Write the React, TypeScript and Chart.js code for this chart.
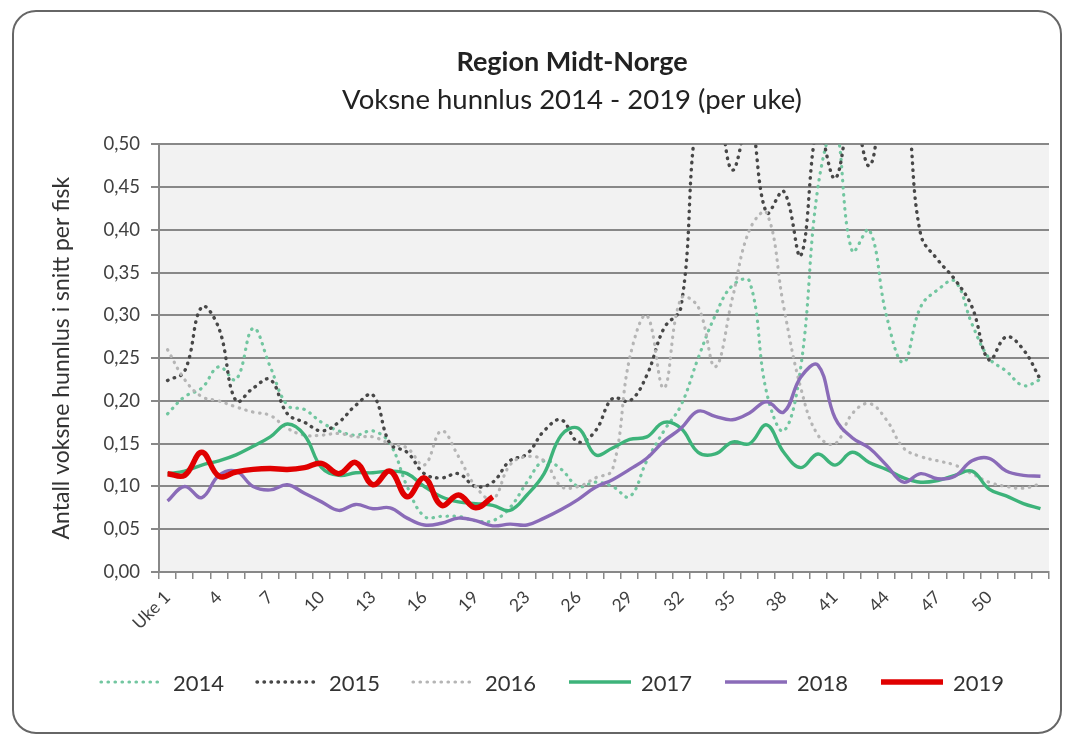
import React, { useEffect, useRef } from 'react';
import { Chart, registerables } from 'chart.js';

Chart.register(...registerables);

const weekLabels = [
  'Uke 1', '2', '3', '4', '5', '6', '7', '8', '9', '10', '11', '12', '13', '14', '15', '16', '17', '18', '19', '20',
  '22', '23', '24', '25', '26', '27', '28', '29', '30', '31', '32', '33', '34', '35', '36', '37', '38', '39', '40',
  '41', '42', '43', '44', '45', '46', '47', '48', '49', '50', '51', '52', '53',
];

const y2014 = [
  0.185, 0.205, 0.215, 0.24, 0.225, 0.285, 0.24, 0.195, 0.19, 0.175, 0.165, 0.16, 0.165, 0.15, 0.1, 0.065,
  0.065, 0.065, 0.06, 0.06, 0.075, 0.105, 0.13, 0.12, 0.1, 0.105, 0.1, 0.088, 0.13, 0.165, 0.195, 0.25,
  0.3, 0.335, 0.34, 0.21, 0.165, 0.24, 0.45, 0.52, 0.375, 0.4, 0.3, 0.245, 0.31, 0.33, 0.34, 0.29,
  0.25, 0.235, 0.218, 0.225,
];

const y2015 = [
  0.224, 0.235, 0.31, 0.285, 0.2, 0.215, 0.225, 0.185, 0.175, 0.165, 0.175, 0.195, 0.207, 0.15, 0.14, 0.115,
  0.11, 0.115, 0.1, 0.105, 0.13, 0.138, 0.165, 0.178, 0.152, 0.165, 0.203, 0.2, 0.23, 0.285, 0.31, 0.54,
  0.55, 0.47, 0.53, 0.42, 0.445, 0.37, 0.52, 0.46, 0.54, 0.475, 0.56, 0.56, 0.395, 0.365, 0.342, 0.31,
  0.248, 0.275, 0.26, 0.225,
];

const y2016 = [
  0.26, 0.225, 0.205, 0.2, 0.193, 0.187, 0.183, 0.168, 0.16, 0.16, 0.162, 0.158, 0.158, 0.15, 0.145, 0.125,
  0.165, 0.135, 0.1, 0.085, 0.125, 0.135, 0.13, 0.1, 0.1, 0.11, 0.12, 0.25, 0.3, 0.215, 0.32, 0.31,
  0.24, 0.32, 0.4, 0.42, 0.31, 0.215, 0.16, 0.15, 0.185, 0.197, 0.178, 0.145, 0.135, 0.13, 0.125, 0.115,
  0.105, 0.1, 0.098, 0.103,
];

const y2017 = [
  0.115, 0.118, 0.125, 0.13, 0.137, 0.147, 0.158, 0.173, 0.16, 0.122, 0.113, 0.116, 0.116, 0.118, 0.115, 0.1,
  0.088, 0.082, 0.08, 0.078, 0.072, 0.09, 0.115, 0.16, 0.168, 0.137, 0.145, 0.155, 0.158, 0.175, 0.168, 0.14,
  0.138, 0.152, 0.15, 0.172, 0.14, 0.122, 0.138, 0.125, 0.14, 0.128, 0.12, 0.11, 0.105, 0.107, 0.113, 0.118,
  0.097, 0.089, 0.08, 0.074,
];

const y2018 = [
  0.083, 0.1, 0.087, 0.113, 0.118, 0.1, 0.096, 0.102, 0.092, 0.082, 0.072, 0.079, 0.074, 0.075, 0.063, 0.055,
  0.057, 0.063, 0.06, 0.054, 0.056, 0.055, 0.063, 0.073, 0.085, 0.099, 0.108, 0.12, 0.133, 0.153, 0.168, 0.188,
  0.182, 0.178, 0.186, 0.199, 0.187, 0.228, 0.242, 0.18, 0.157, 0.145, 0.125, 0.105, 0.115, 0.109, 0.112, 0.13,
  0.133, 0.118, 0.113, 0.112,
];

const y2019 = [
  0.115, 0.113, 0.14, 0.112, 0.117, 0.12, 0.121, 0.12, 0.122, 0.127, 0.115, 0.128, 0.102, 0.118, 0.088, 0.11,
  0.078, 0.09, 0.075, 0.088,
];

const FONT = 'Lato, "Open Sans", sans-serif';

type Series = { label: string; data: number[]; color: string; width: number; dash: number[]; cap: 'round' | 'butt' };

const series: Series[] = [
  { label: '2014', data: y2014, color: '#72c6a0', width: 3.2, dash: [0.5, 6.5], cap: 'round' },
  { label: '2015', data: y2015, color: '#474747', width: 3.4, dash: [0.5, 6.5], cap: 'round' },
  { label: '2016', data: y2016, color: '#b5b5b5', width: 3.2, dash: [0.5, 6.5], cap: 'round' },
  { label: '2017', data: y2017, color: '#3db37a', width: 3.4, dash: [], cap: 'butt' },
  { label: '2018', data: y2018, color: '#8a6bb8', width: 3.4, dash: [], cap: 'butt' },
  { label: '2019', data: y2019, color: '#e00000', width: 5.5, dash: [], cap: 'butt' },
];

const plotBg = {
  id: 'plotBg',
  beforeDraw(chart: any) {
    const { ctx, chartArea: a } = chart;
    ctx.save();
    ctx.fillStyle = '#f2f2f2';
    ctx.fillRect(a.left, a.top, a.right - a.left, a.bottom - a.top);
    ctx.restore();
  },
};

const PAD_LEFT = 95;
const PLOT_LEFT = 159;
const YTITLE_SIZE = 23;

export default function App() {
  const ref = useRef<HTMLCanvasElement>(null);

  useEffect(() => {
    const canvas = ref.current!;
    const chart = new Chart(canvas, {
      type: 'line',
      data: {
        labels: weekLabels,
        datasets: series.map((s, i) => ({
          label: s.label,
          data: s.data,
          borderColor: s.color,
          backgroundColor: s.color,
          borderWidth: s.width,
          borderDash: s.dash,
          borderCapStyle: s.cap,
          borderJoinStyle: 'round',
          pointRadius: 0,
          pointHoverRadius: 0,
          tension: 0.4,
          fill: false,
          clip: 0,
          order: series.length - i,
        })) as any,
      },
      options: {
        responsive: false,
        animation: false,
        devicePixelRatio: 1,
        layout: { padding: { left: PAD_LEFT, right: 17, top: 0, bottom: 0 } },
        plugins: {
          legend: { display: false },
          tooltip: { enabled: false },
          title: {
            display: true,
            text: 'Region Midt-Norge',
            color: '#222',
            font: { family: FONT, size: 27, weight: 'bold' },
            padding: { top: 46, bottom: 5 },
          },
          subtitle: {
            display: true,
            text: 'Voksne hunnlus 2014 - 2019 (per uke)',
            color: '#222',
            font: { family: FONT, size: 27.5 },
            padding: { top: 0, bottom: 28 },
          },
        },
        scales: {
          x: {
            type: 'category',
            offset: true,
            grid: {
              offset: true,
              drawOnChartArea: false,
              drawTicks: true,
              tickLength: 7,
              color: '#888',
              lineWidth: 1.5,
            },
            border: { display: true, color: '#888', width: 2 },
            ticks: {
              autoSkip: false,
              maxRotation: 45,
              minRotation: 45,
              padding: 8,
              color: '#404040',
              font: { family: FONT, size: 17.5 },
              callback: (_v: any, i: number) => (i % 3 === 0 && i <= 48 ? weekLabels[i] : ''),
            },
            afterFit: (s: any) => {
              s.height = 165;
            },
          },
          y: {
            min: 0,
            max: 0.5,
            ticks: {
              stepSize: 0.05,
              padding: 11,
              color: '#404040',
              font: { family: FONT, size: 18.5 },
              callback: (v: any) => Number(v).toFixed(2).replace('.', ','),
            },
            grid: { color: '#888', lineWidth: 2, tickLength: 8 },
            border: { display: true, color: '#888', width: 2 },
            title: {
              display: true,
              text: 'Antall voksne hunnlus i snitt per fisk',
              color: '#333',
              font: { family: FONT, size: YTITLE_SIZE },
              padding: { top: 62 - YTITLE_SIZE * 0.6 - PAD_LEFT, bottom: 0 },
            },
            afterFit: (s: any) => {
              s.width = PLOT_LEFT - PAD_LEFT;
            },
          },
        },
      } as any,
      plugins: [plotBg],
    });
    return () => chart.destroy();
  }, []);

  return (
    <div>
      <canvas
        ref={ref}
        width={1066}
        height={737}
        style={{ position: 'fixed', left: 0, top: 0, width: 1066, height: 737 }}
      />
      <div
        style={{
          position: 'fixed',
          left: 0,
          top: 668,
          width: 1066,
          height: 28,
          fontFamily: FONT,
        }}
      >
        {series.map((s, i) => (
          <div
            key={s.label}
            style={{
              position: 'absolute',
              left: 99 + i * 156,
              top: 0,
              height: 28,
              display: 'flex',
              alignItems: 'center',
            }}
          >
            <svg width={66} height={10}>
              <line
                x1={2}
                y1={5}
                x2={64}
                y2={5}
                stroke={s.color}
                strokeWidth={s.width}
                strokeDasharray={s.dash.length ? s.dash.join(' ') : undefined}
                strokeLinecap={s.cap}
              />
            </svg>
            <span style={{ marginLeft: 8, fontSize: 22, color: '#333' }}>{s.label}</span>
          </div>
        ))}
      </div>
      <div
        style={{
          position: 'fixed',
          left: 12,
          top: 10,
          width: 1050,
          height: 724,
          border: '2px solid #666',
          borderRadius: 24,
          boxSizing: 'border-box',
          pointerEvents: 'none',
        }}
      />
    </div>
  );
}
